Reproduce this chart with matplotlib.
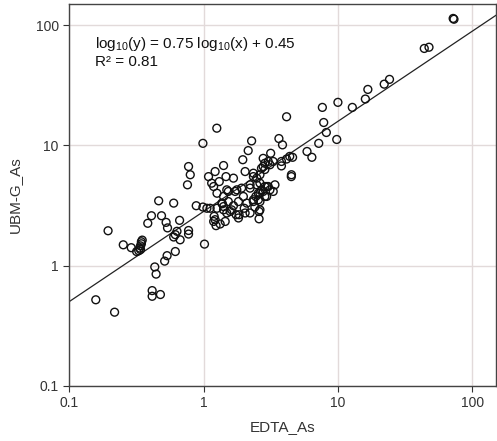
import matplotlib
matplotlib.use("Agg")
import matplotlib.pyplot as plt
import numpy as np

plt.rcParams['font.family'] = ['Liberation Sans', 'DejaVu Sans']
plt.rcParams['mathtext.fontset'] = 'custom'
plt.rcParams['mathtext.rm'] = 'Liberation Sans'
plt.rcParams['mathtext.it'] = 'Liberation Sans:italic'

# EDTA_As vs UBM-G_As
edta_as = [
    0.158, 0.218, 0.195, 0.253, 0.29, 0.318, 0.33, 0.335, 0.34, 0.345, 0.345, 0.35, 0.34,
    0.385, 0.41, 0.487, 0.464, 0.60, 0.527, 0.54, 0.664, 0.635, 0.617, 0.60, 0.67, 0.774,
    0.774, 0.617, 0.536, 0.514, 0.434, 0.444, 0.415, 0.415, 0.478, 1.017, 0.883, 0.99,
    1.12, 1.2, 1.19, 1.24, 1.33, 1.45, 1.38, 1.41, 1.58, 1.75, 1.82, 2.01, 2.22, 2.41,
    2.59, 2.59, 2.1, 1.67,
    4.15, 1.256, 0.99, 2.28, 2.15, 3.64, 3.87, 2.78, 3.16, 1.96, 1.41, 2.04, 1.22, 1.09,
    1.67, 2.35, 2.63, 2.86, 3.03, 4.51, 4.38, 5.89, 0.774, 0.797, 0.76, 1.15, 1.31, 1.53,
    1.77, 1.98, 2.22, 2.49, 2.63, 3.03, 3.30, 2.95, 2.35, 1.49, 1.84, 2.63, 1.26, 1.06, 1.62,
    72, 73, 43.9, 47.6, 24.2, 22.1, 16.7, 16.0, 12.8, 10.0, 7.66, 7.84, 8.2, 7.2, 9.8,
    6.4, 4.6, 4.15, 4.5, 3.8, 3.8,
    1.47, 1.19, 1.26, 1.41, 1.49, 1.72, 1.92, 1.37, 1.53, 1.82, 2.35, 2.56, 2.04, 1.22,
    1.41, 2.35, 2.49, 2.63, 2.86, 2.7, 2.78, 2.56, 2.22, 2.86,
    3.3, 3.12, 2.86, 2.7, 3.4, 3.12, 2.95, 2.78, 2.45, 2.63,
]
ubmg_as = [
    0.52, 0.41, 1.95, 1.49, 1.41, 1.31, 1.33, 1.40, 1.46, 1.52, 1.58, 1.63, 1.36,
    2.25, 2.6, 2.6, 3.46, 3.31, 2.29, 2.06, 2.38, 1.93, 1.81, 1.73, 1.64, 1.96,
    1.83, 1.31, 1.21, 1.09, 0.975, 0.85, 0.62, 0.556, 0.575, 1.51, 3.15, 3.07,
    3.0, 2.57, 2.33, 2.15, 2.22, 2.33, 3.27, 3.1, 2.82, 2.65, 2.49, 3.0, 2.74, 3.07,
    2.82, 2.45, 3.31, 3.15,
    17.3, 13.9, 10.4, 10.9, 9.05, 11.4, 10.1, 7.8, 8.6, 7.6, 6.8, 6.06, 6.06, 5.5,
    5.34, 5.5, 5.7, 7.1, 7.35, 5.7, 8.1, 8.9, 6.67, 5.7, 4.7, 4.85, 5.0, 4.14,
    4.27, 3.76, 4.41, 4.7, 4.0, 4.55, 4.14, 3.76, 3.53, 2.74, 2.65, 2.91, 3.0, 3.0, 2.91,
    113.7, 112, 64, 65.5, 35.4, 32.3, 29.2, 24.3, 20.7, 22.8, 20.7, 15.5, 12.8, 10.4, 11.2,
    7.96, 7.96, 7.7, 5.5, 7.35, 6.75,
    5.5, 4.55, 4.0, 3.76, 4.27, 4.14, 4.41, 3.31, 3.41, 3.41, 3.41, 3.53, 2.74, 2.41,
    2.91, 5.87, 5.34, 4.85, 4.55, 4.27, 6.67, 4.0, 4.7, 3.76,
    7.35, 6.9, 6.3, 6.45, 4.7, 4.27, 4.55, 4.14, 3.76, 3.41,
]

slope = 0.75
intercept = 0.45
r2 = 0.81

fig = plt.figure(figsize=(4.97, 4.41), dpi=100)
ax = fig.add_axes([0.139, 0.125, 0.859, 0.866])

ax.set_xscale('log')
ax.set_yscale('log')
ax.set_xlim(0.1, 150)
ax.set_ylim(0.1, 150)

ax.grid(True, color='#e2dada', linewidth=1.0, zorder=0)
ax.set_axisbelow(True)

# regression line
xl = np.array([0.1, 150])
ax.plot(xl, 10 ** (slope * np.log10(xl) + intercept), color='#222222', linewidth=0.9, zorder=2)

ax.scatter(edta_as, ubmg_as, s=32, facecolors='none', edgecolors='#111111',
           linewidths=1.0, zorder=3)

ticks = [0.1, 1, 10, 100]
ax.set_xticks(ticks)
ax.set_xticklabels(['0.1', '1', '10', '100'])
ax.set_yticks(ticks)
ax.set_yticklabels(['0.1', '1', '10', '100'])
ax.minorticks_off()
ax.tick_params(direction='out', length=4, width=0.8, colors='#333333',
               labelsize=10, labelcolor='#333333')

for sp in ax.spines.values():
    sp.set_color('#444444')
    sp.set_linewidth(1.0)

ax.set_xlabel('EDTA_As', fontsize=11, color='#333333', labelpad=7)
ax.set_ylabel('UBM-G_As', fontsize=11, color='#333333', labelpad=10)

ax.text(0.061, 0.895, r'log$_{10}$(y) = %.2f log$_{10}$(x) + %.2f' % (slope, intercept),
        transform=ax.transAxes, fontsize=11, color='#111111', va='center')
ax.text(0.061, 0.848, 'R² = %.2f' % r2, transform=ax.transAxes,
        fontsize=11, color='#111111', va='center')

fig.savefig('out.png', dpi=100)
